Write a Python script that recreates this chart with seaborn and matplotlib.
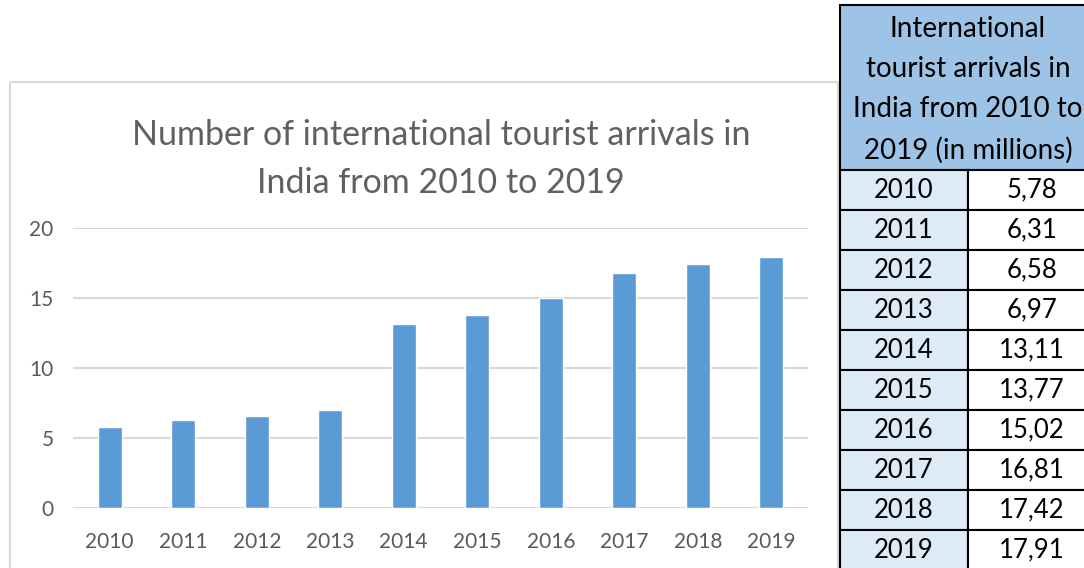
import matplotlib
matplotlib.use("Agg")
import matplotlib.pyplot as plt
from matplotlib.patches import Rectangle
import pandas as pd
import seaborn as sns

# Tourist arrivals in India, millions
years = ["2010", "2011", "2012", "2013", "2014", "2015", "2016", "2017", "2018", "2019"]
arrivals = [5.78, 6.31, 6.58, 6.97, 13.11, 13.77, 15.02, 16.81, 17.42, 17.91]
y_ticks = [0, 5, 10, 15, 20]
chart_title = "Number of international tourist arrivals in\nIndia from 2010 to 2019"
table_header = "International\ntourist arrivals in\nIndia from 2010 to\n2019 (in millions)"

BAR = "#5B9BD5"
GRID = "#D9D9D9"
TXT = "#595959"
HEAD_BG = "#9DC3E6"
YEAR_BG = "#DDEBF7"

sns.set_theme(style="white")
plt.rcParams["font.family"] = ["Lato", "DejaVu Sans"]

W, H = 1084, 568
fig = plt.figure(figsize=(W / 100, H / 100), dpi=100)

# overlay in pixel coordinates for the chart frame, title and table
ov = fig.add_axes([0, 0, 1, 1], zorder=0)
ov.set_xlim(0, W)
ov.set_ylim(H, 0)
ov.axis("off")

ov.add_patch(Rectangle((10, 82), 828, 500, fill=False, edgecolor=GRID, lw=1.5))
ov.text(441, 159, chart_title, ha="center", va="center", fontsize=24.5,
        color="#606060", linespacing=1.62)

# bar chart
left, right, top, bottom = 73, 808, 228, 508
ax = fig.add_axes([left / W, (H - bottom) / H, (right - left) / W, (bottom - top) / H], zorder=1)
df = pd.DataFrame({"year": years, "arrivals": arrivals})
sns.barplot(data=df, x="year", y="arrivals", color=BAR, width=0.32,
            saturation=1, ax=ax, zorder=3)
ax.set_xlim(-0.5, len(years) - 0.5)
ax.set_ylim(0, 20)
ax.set_yticks(y_ticks)
ax.set_xlabel("")
ax.set_ylabel("")
ax.set_facecolor("none")
ax.grid(axis="y", color=GRID, lw=1.5, zorder=0)
ax.grid(axis="x", visible=False)
for s in ax.spines.values():
    s.set_visible(False)
ax.tick_params(axis="both", length=0, labelsize=15, colors=TXT)
ax.tick_params(axis="y", pad=14)
ax.tick_params(axis="x", pad=17)

# data table on the right
tx0, tx1, tx2 = 840, 968, 1115
head_top, head_bot, row_h = 5, 170, 40
ov.add_patch(Rectangle((tx0, head_top), tx2 - tx0, head_bot - head_top,
                       facecolor=HEAD_BG, edgecolor="black", lw=1.5))
ov.text(968, (head_top + head_bot) / 2 + 2, table_header,
        ha="center", va="center", fontsize=20, color="black", linespacing=1.67)
for i, (yr, v) in enumerate(zip(years, arrivals)):
    y0 = head_bot + i * row_h
    ov.add_patch(Rectangle((tx0, y0), tx1 - tx0, row_h, facecolor=YEAR_BG,
                           edgecolor="black", lw=1.5))
    ov.add_patch(Rectangle((tx1, y0), tx2 - tx1, row_h, facecolor="white",
                           edgecolor="black", lw=1.5))
    ov.text((tx0 + tx1) / 2, y0 + row_h / 2, yr, ha="center", va="center",
            fontsize=18.5, color="black")
    ov.text(1032, y0 + row_h / 2, f"{v:.2f}".replace(".", ","), ha="center",
            va="center", fontsize=18.5, color="black")

fig.savefig("out.png", dpi=100)
